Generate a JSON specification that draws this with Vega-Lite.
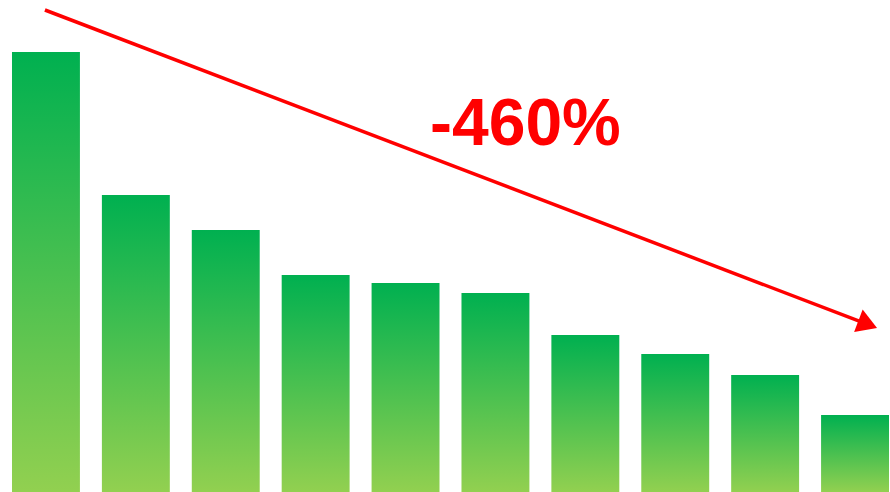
{
  "$schema": "https://vega.github.io/schema/vega-lite/v6.json",
  "width": 890,
  "height": 492,
  "autosize": {"type": "fit", "contains": "padding"},
  "padding": 0,
  "config": {"view": {"stroke": null}},
  "datasets": {
    "bars": [
      {"bar": "1", "value": 440},
      {"bar": "2", "value": 297},
      {"bar": "3", "value": 262},
      {"bar": "4", "value": 217},
      {"bar": "5", "value": 209},
      {"bar": "6", "value": 199},
      {"bar": "7", "value": 157},
      {"bar": "8", "value": 138},
      {"bar": "9", "value": 117},
      {"bar": "10", "value": 77}
    ],
    "arrow": [
      {"px": 45, "py": 482},
      {"px": 868.7, "py": 167.6}
    ],
    "head": [
      {"px": 868.7, "py": 167.6}
    ],
    "label": [
      {"px": 526, "py": 347, "text": "-460%"}
    ]
  },
  "layer": [
    {
      "data": {"name": "bars"},
      "mark": {
        "type": "bar",
        "fill": {
          "gradient": "linear",
          "x1": 0, "y1": 0, "x2": 0, "y2": 1,
          "stops": [
            {"offset": 0, "color": "#00b050"},
            {"offset": 1, "color": "#92d050"}
          ]
        }
      },
      "encoding": {
        "x": {
          "field": "bar", "type": "nominal", "sort": null, "axis": null,
          "scale": {"paddingInner": 0.2444, "paddingOuter": 0.0667, "align": 1, "round": false}
        },
        "y": {
          "field": "value", "type": "quantitative", "axis": null,
          "scale": {"domain": [0, 492], "nice": false, "zero": true}
        }
      }
    },
    {
      "data": {"name": "arrow"},
      "mark": {"type": "line", "color": "#ff0000", "strokeWidth": 3.5},
      "encoding": {
        "x": {"field": "px", "type": "quantitative", "axis": null, "scale": {"domain": [0, 890], "nice": false, "zero": false}},
        "y": {"field": "py", "type": "quantitative", "axis": null, "scale": {"domain": [0, 492], "nice": false}}
      }
    },
    {
      "data": {"name": "head"},
      "mark": {
        "type": "point",
        "shape": "M1,0L-1,-1.2L-1,1.2Z",
        "size": 400,
        "angle": 20.9,
        "filled": true,
        "color": "#ff0000",
        "opacity": 1,
        "strokeWidth": 0
      },
      "encoding": {
        "x": {"field": "px", "type": "quantitative", "axis": null, "scale": {"domain": [0, 890], "nice": false, "zero": false}},
        "y": {"field": "py", "type": "quantitative", "axis": null, "scale": {"domain": [0, 492], "nice": false}}
      }
    },
    {
      "data": {"name": "label"},
      "mark": {
        "type": "text",
        "font": "Liberation Sans",
        "fontWeight": "bold",
        "fontSize": 66,
        "color": "#ff0000",
        "align": "center",
        "baseline": "alphabetic"
      },
      "encoding": {
        "x": {"field": "px", "type": "quantitative", "axis": null, "scale": {"domain": [0, 890], "nice": false, "zero": false}},
        "y": {"field": "py", "type": "quantitative", "axis": null, "scale": {"domain": [0, 492], "nice": false}},
        "text": {"field": "text"}
      }
    }
  ],
  "resolve": {"scale": {"x": "independent"}}
}
